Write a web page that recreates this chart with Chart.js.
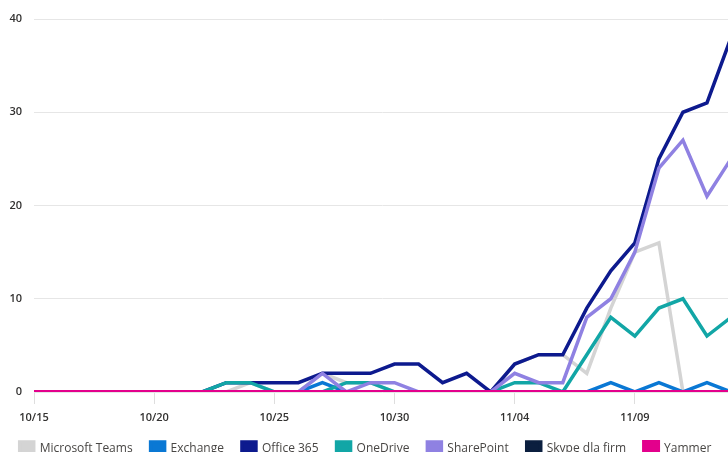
<!DOCTYPE html>
<html>
<head>
<meta charset="utf-8">
<script src="https://cdn.jsdelivr.net/npm/chart.js@4.4.0/dist/chart.umd.min.js"></script>
<style>
    html, body { margin: 0; padding: 0; background: #fff; overflow: hidden; }
    #wrap { position: relative; width: 731px; height: 466px; }
</style>
</head>
<body>
<div id="wrap"><canvas id="usage-chart"></canvas></div>
<script>
// Days shown on the x axis
const days = [
    '10/15', '10/16', '10/17', '10/18', '10/19', '10/20', '10/21', '10/22', '10/23', '10/24',
    '10/25', '10/26', '10/27', '10/28', '10/29', '10/30', '10/31', '11/01', '11/02', '11/03',
    '11/04', '11/05', '11/06', '11/07', '11/08', '11/09', '11/10', '11/11', '11/12', '11/13'
];

// Only these dates get a tick label
const tickLabels = ['10/15', '10/20', '10/25', '10/30', '11/04', '11/09'];
const yTicks = [0, 10, 20, 30, 40];

// Series values (one per day)
const teams      = [0,0,0,0,0,0,0,0,0,1, 0,0,2,1,1,0,0,0,0,0, 3,4,4,2,9,15,16,0,0,0];
const exchange   = [0,0,0,0,0,0,0,0,0,0, 0,0,1,0,0,0,0,0,0,0, 0,0,0,0,1,0,1,0,1,0];
const office365  = [0,0,0,0,0,0,0,0,1,1, 1,1,2,2,2,3,3,1,2,0, 3,4,4,9,13,16,25,30,31,38];
const oneDrive   = [0,0,0,0,0,0,0,0,1,1, 0,0,0,1,1,0,0,0,0,0, 1,1,0,4,8,6,9,10,6,8];
const sharePoint = [0,0,0,0,0,0,0,0,0,0, 0,0,2,0,1,1,0,0,0,0, 2,1,1,8,10,15,24,27,21,25];
const skype      = [0,0,0,0,0,0,0,0,0,0, 0,0,0,0,0,0,0,0,0,0, 0,0,0,0,0,0,0,0,0,0];
const yammer     = [0,0,0,0,0,0,0,0,0,0, 0,0,0,0,0,0,0,0,0,0, 0,0,0,0,0,0,0,0,0,0];

// Helper for one line series
function makeSeries(label, data, color, width) {
    return {
        label: label,
        data: data,
        borderColor: color,
        backgroundColor: color,
        borderWidth: width || 3.5,
        pointRadius: 0,
        pointHoverRadius: 0,
        tension: 0,
        fill: false
    };
}

// Listed last-to-first so Yammer is painted on top; legend is reversed back
const datasets = [
    makeSeries('Yammer', yammer, '#e3008c', 4),
    makeSeries('Skype dla firm', skype, '#0b1f3f'),
    makeSeries('SharePoint', sharePoint, '#8f81e2'),
    makeSeries('OneDrive', oneDrive, '#12a6a6'),
    makeSeries('Office 365', office365, '#0d1a8e'),
    makeSeries('Exchange', exchange, '#0a78d4'),
    makeSeries('Microsoft Teams', teams, '#d4d4d4')
];

const ctx = document.getElementById('usage-chart').getContext('2d');

new Chart(ctx, {
    type: 'line',
    data: { labels: days, datasets: datasets },
    options: {
        responsive: true,
        maintainAspectRatio: false,
        animation: false,
        layout: { padding: { top: 19, left: 0, right: 0, bottom: 0 } },
        scales: {
            x: {
                offset: false,
                border: { display: false },
                grid: {
                    drawOnChartArea: false,
                    drawTicks: true,
                    tickLength: 12,
                    color: '#dedede'
                },
                ticks: {
                    autoSkip: false,
                    maxRotation: 0,
                    padding: 7,
                    color: '#323130',
                    font: { family: 'Open Sans', size: 11, weight: '600' },
                    callback: function(value) {
                        const label = this.getLabelForValue(value);
                        return tickLabels.includes(label) ? label : null;
                    }
                },
                afterFit: function(scale) { scale.height = 32; }
            },
            y: {
                min: yTicks[0],
                max: yTicks[yTicks.length - 1],
                border: { display: false },
                grid: { color: '#e6e6e6', drawTicks: false },
                afterBuildTicks: function(scale) {
                    scale.ticks = yTicks.map(v => ({ value: v }));
                },
                ticks: {
                    padding: 12,
                    color: '#323130',
                    font: { family: 'Open Sans', size: 11, weight: '600' }
                },
                afterFit: function(scale) { scale.width = 34; }
            }
        },
        plugins: {
            legend: {
                position: 'bottom',
                reverse: true,
                labels: {
                    boxWidth: 14,
                    boxHeight: 14,
                    padding: 18,
                    color: '#484644',
                    font: { family: 'Open Sans', size: 12 }
                }
            },
            tooltip: { enabled: false }
        }
    }
});
</script>
</body>
</html>
